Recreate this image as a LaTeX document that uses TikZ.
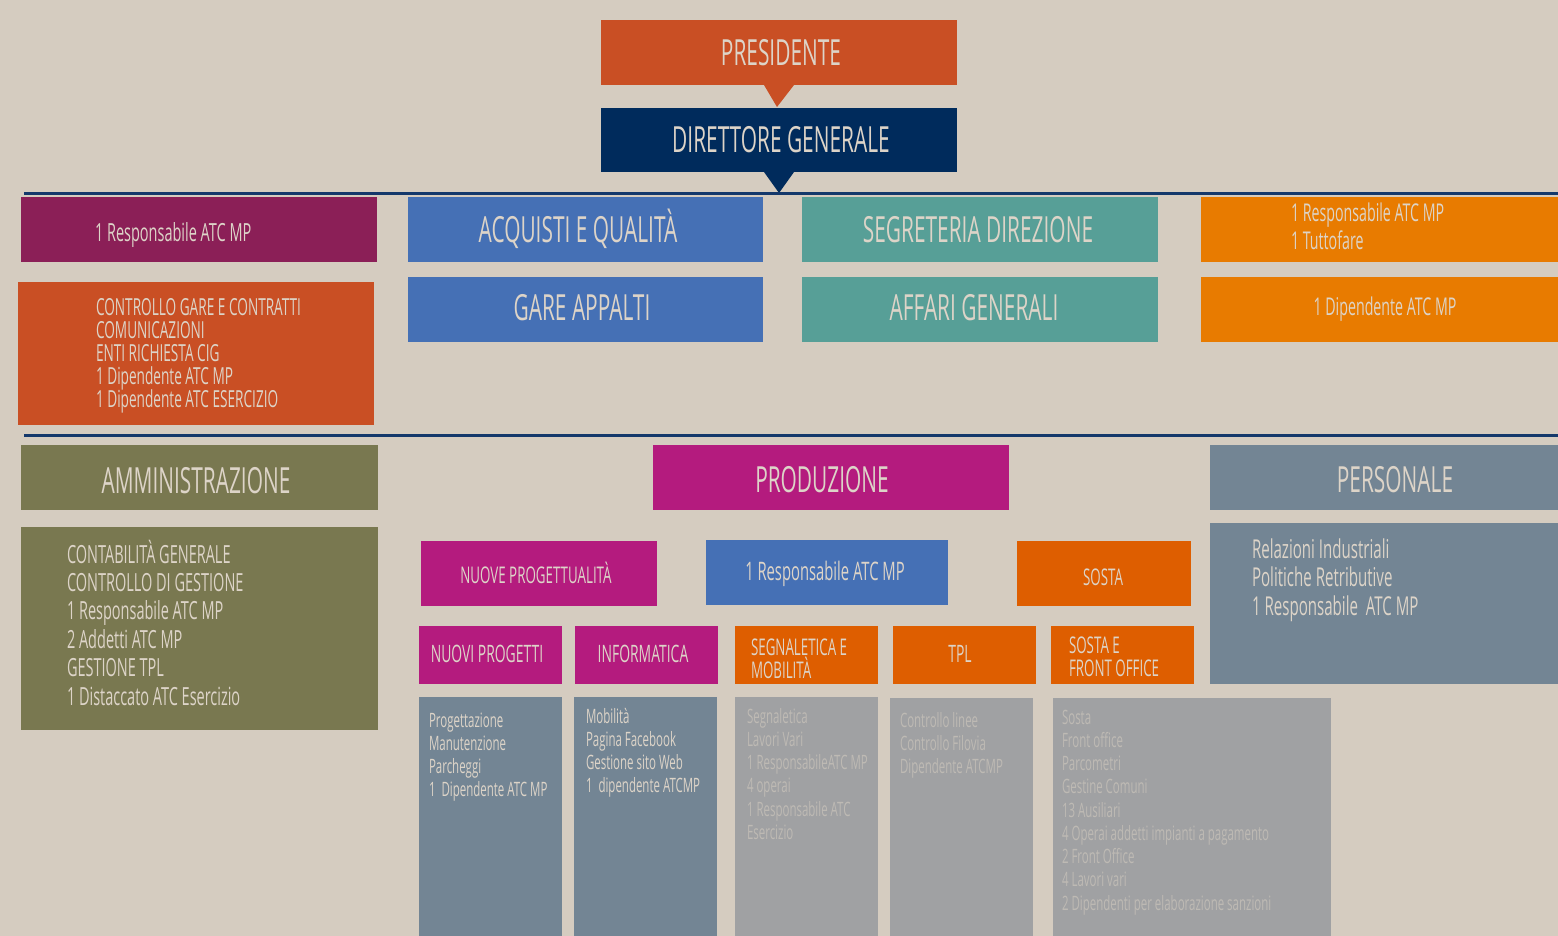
\documentclass[tikz,border=0pt]{standalone}
\usepackage{fontspec}
\setmainfont[FakeStretch=0.58]{Open Sans}
\definecolor{bgc}{HTML}{D5CCC0}
\definecolor{txtc}{HTML}{DDD4C8}
\definecolor{gtxt}{HTML}{BEBAB4}
\definecolor{presc}{HTML}{C94F24}
\definecolor{navy}{HTML}{002B5C}
\definecolor{purp}{HTML}{8B1F57}
\definecolor{bluec}{HTML}{4570B5}
\definecolor{teal}{HTML}{579F97}
\definecolor{orng}{HTML}{E87B00}
\definecolor{olive}{HTML}{797850}
\definecolor{magen}{HTML}{B41B7E}
\definecolor{slate}{HTML}{738594}
\definecolor{sosto}{HTML}{DE5E00}
\definecolor{greyc}{HTML}{A0A1A3}
\definecolor{linec}{HTML}{14386B}
\newcommand\fsz[1]{\fontsize{#1}{#1}\selectfont}
% box: name, colour, x1, y1, x2, y2
\newcommand\bx[6]{\node[box,fill=#2,minimum width={(#5)-(#3)},minimum height={(#6)-(#4)}] (#1) at (#3,#4) {};}
% stacked left-aligned lines: name, x, first baseline, spacing, style, list
\newcommand\stack[6]{\foreach \s [count=\i] in {#6} {\node[tx,anchor=base west,#5] (#1-\i) at (#2,{#3+(\i-1)*#4}) {\s};}}
\begin{document}
\begin{tikzpicture}[x=1pt,y=-1pt,
  box/.style={rectangle,inner sep=0pt,outer sep=0pt,anchor=north west,draw=none},
  tx/.style={inner sep=0pt,outer sep=0pt,text=txtc},
  big/.style={tx,anchor=base,font=\fsz{36}},
  mid/.style={tx,anchor=base,font=\fsz{23}},
  sml/.style={font=\fsz{19.8}},
  sep/.style={draw=linec,line width=3pt}]
\fill[bgc] (0,0) rectangle (1558,936);
\useasboundingbox (0,0) rectangle (1558,936);
% top
\bx{pres}{presc}{601}{20}{957}{85}
\bx{dg}{navy}{601}{108}{957}{172}
\fill[presc] ([xshift=-15pt]pres.south) -- ([xshift=15pt]pres.south) -- ([yshift=-22pt,xshift=-2pt]pres.south) -- cycle;
\fill[navy] ([xshift=-15pt]dg.south) -- ([xshift=15pt]dg.south) -- ([yshift=-21pt]dg.south) -- cycle;
\node[big] (presT) at (781,66) {PRESIDENTE};
\node[big] (dgT) at (781,153) {DIRETTORE GENERALE};
% separator lines
\coordinate (l1a) at (24,194); \coordinate (l1b) at (1558,194);
\coordinate (l2a) at (24,435); \coordinate (l2b) at (1558,435);
\draw[sep] (l1a) -- (l1b);
\draw[sep] (l2a) -- (l2b);
% row 1
\bx{r1a}{purp}{21}{197}{377}{262}
\bx{acq}{bluec}{408}{197}{763}{262}
\bx{seg}{teal}{802}{197}{1158}{262}
\bx{or1}{orng}{1201}{197}{1558}{262}
\node[tx,anchor=base west,font=\fsz{25}] (r1aT) at (95,241) {1 Responsabile ATC MP};
\node[big] (acqT) at (578,242) {ACQUISTI E QUALITÀ};
\node[big] (segT) at (978,242) {SEGRETERIA DIREZIONE};
\stack{or1T}{1291}{222}{28}{font=\fsz{24.5}}{1 Responsabile ATC MP,1 Tuttofare}
% row 2
\bx{ctrl}{presc}{18}{282}{374}{425}
\bx{gare}{bluec}{408}{277}{763}{342}
\bx{aff}{teal}{802}{277}{1158}{342}
\bx{or2}{orng}{1201}{277}{1558}{342}
\stack{ctrlT}{96}{315}{23}{font=\fsz{23.5}}{CONTROLLO GARE E CONTRATTI,COMUNICAZIONI,ENTI RICHIESTA CIG,1 Dipendente ATC MP,1 Dipendente ATC ESERCIZIO}
\node[big] (gareT) at (582,320) {GARE APPALTI};
\node[big] (affT) at (974,320) {AFFARI GENERALI};
\node[tx,anchor=base,font=\fsz{24.5}] (or2T) at (1385,315) {1 Dipendente ATC MP};
% row 3
\bx{amm}{olive}{21}{445}{378}{510}
\bx{ammc}{olive}{21}{527}{378}{730}
\bx{prod}{magen}{653}{445}{1009}{510}
\bx{pers}{slate}{1210}{445}{1558}{510}
\bx{persc}{slate}{1210}{523}{1558}{684}
\node[big] (ammT) at (196,493) {AMMINISTRAZIONE};
\node[big] (prodT) at (822,492) {PRODUZIONE};
\node[big] (persT) at (1395,492) {PERSONALE};
\stack{ammcT}{67}{563}{28.4}{font=\fsz{25}}{CONTABILITÀ GENERALE,CONTROLLO DI GESTIONE,1 Responsabile ATC MP,2 Addetti ATC MP,GESTIONE TPL,1 Distaccato ATC Esercizio}
\stack{perscT}{1252}{558}{28.5}{font=\fsz{26}}{Relazioni Industriali,Politiche Retributive,1 Responsabile\ \ ATC MP}
% row 4
\bx{nuove}{magen}{421}{541}{657}{606}
\bx{resp}{bluec}{706}{540}{948}{605}
\bx{sosta}{sosto}{1017}{541}{1191}{606}
\node[mid] (nuoveT) at (536,583) {NUOVE PROGETTUALITÀ};
\node[mid,font=\fsz{25.5}] (respT) at (825,580) {1 Responsabile ATC MP};
\node[mid] (sostaT) at (1103,585) {SOSTA};
% row 5
\bx{nprog}{magen}{419}{626}{562}{684}
\bx{info}{magen}{575}{626}{718}{684}
\bx{segn}{sosto}{735}{626}{878}{684}
\bx{tpl}{sosto}{893}{626}{1036}{684}
\bx{sfo}{sosto}{1051}{626}{1194}{684}
\node[mid,font=\fsz{24}] (nprogT) at (487,662) {NUOVI PROGETTI};
\node[mid,font=\fsz{24}] (infoT) at (643,662) {INFORMATICA};
\stack{segnT}{751}{655}{23}{font=\fsz{23}}{SEGNALETICA E,MOBILITÀ}
\node[mid,font=\fsz{24}] (tplT) at (960,662) {TPL};
\stack{sfoT}{1069}{653}{23.5}{font=\fsz{23}}{SOSTA E,FRONT OFFICE}
% row 6
\bx{c1}{slate}{419}{697}{562}{936}
\bx{c2}{slate}{574}{697}{717}{936}
\bx{c3}{greyc}{735}{697}{878}{936}
\bx{c4}{greyc}{890}{698}{1033}{936}
\bx{c5}{greyc}{1053}{698}{1331}{936}
\stack{c1T}{429}{727}{23.3}{sml}{Progettazione,Manutenzione,Parcheggi,1\ \ Dipendente ATC MP}
\stack{c2T}{586}{723}{23.3}{sml}{Mobilità,Pagina Facebook,Gestione sito Web,1\ \ dipendente ATCMP}
\stack{c3T}{747}{723}{23.3}{sml,text=gtxt}{Segnaletica,Lavori Vari,1 ResponsabileATC MP,4 operai,1 Responsabile ATC,Esercizio}
\stack{c4T}{900}{727}{23.3}{sml,text=gtxt}{Controllo linee,Controllo Filovia,Dipendente ATCMP}
\stack{c5T}{1062}{724}{23.25}{sml,text=gtxt}{Sosta,Front office,Parcometri,Gestine Comuni,13 Ausiliari,4 Operai addetti impianti a pagamento,2 Front Office,4 Lavori vari,2 Dipendenti per elaborazione sanzioni}
\end{tikzpicture}
\end{document}
